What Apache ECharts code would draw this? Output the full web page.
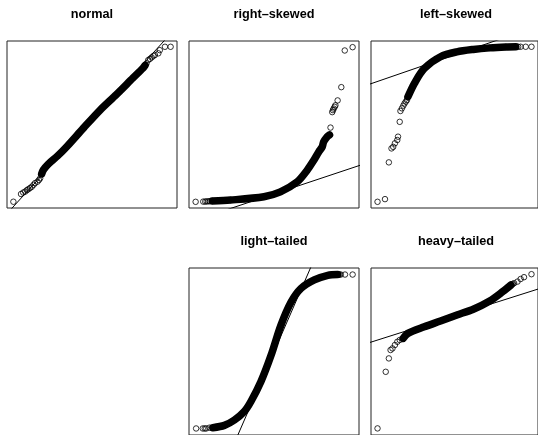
<!DOCTYPE html>
<html>
<head>
<meta charset="utf-8">
<script src="https://cdn.jsdelivr.net/npm/echarts@6/dist/echarts.min.js"></script>
<style>
  html, body { margin: 0; padding: 0; background: #fff; }
  #main { width: 538px; height: 435px; }
</style>
</head>
<body>
<div id="main"></div>
<script>
// panel titles
var titles = ['normal', 'right\u2013skewed', 'left\u2013skewed', 'light\u2013tailed', 'heavy\u2013tailed'];

// [theoretical quantile, sample quantile]
// dense part of the cloud
var normalBand = [[-2.05, -2.05], [-1.98, -1.88], [-1.78, -1.64], [-1.40, -1.30], [-1.03, -0.92], [-0.35, -0.15], [0.33, 0.60], [1.00, 1.25], [1.67, 1.93], [2.07, 2.33], [2.16, 2.45]];
var rightBand = [[-2.51, 0.04], [-1.77, 0.08], [-0.41, 0.23], [0.26, 0.45], [0.94, 0.90], [1.35, 1.43], [1.62, 1.88], [1.82, 2.26], [1.96, 2.48], [2.02, 2.71], [2.16, 2.94], [2.26, 3.03]];
var leftBand = [[-1.93, -2.26], [-1.66, -1.65], [-1.25, -0.98], [-0.58, -0.45], [0.10, -0.23], [0.78, -0.12], [1.46, -0.05], [2.13, -0.01], [2.54, 0.00]];
var lightBand = [[-2.49, -0.99], [-2.02, -0.96], [-1.61, -0.89], [-1.21, -0.78], [-0.94, -0.65], [-0.53, -0.39], [-0.12, -0.05], [0.28, 0.34], [0.69, 0.64], [1.10, 0.82], [1.64, 0.93], [2.19, 0.99], [2.59, 1.00]];
var heavyBand = [[-2.13, -1.17], [-1.93, -0.92], [-1.25, -0.59], [-0.58, -0.30], [0.10, 0.00], [0.78, 0.29], [1.46, 0.70], [2.00, 1.17], [2.34, 1.50]];

// separate circles in the tails
var normalTail = [[-3.20, -3.20], [-2.89, -2.88], [-2.80, -2.82], [-2.72, -2.78], [-2.65, -2.72], [-2.59, -2.68], [-2.52, -2.63], [-2.45, -2.58],
  [-2.38, -2.50], [-2.32, -2.43], [-2.22, -2.37], [-2.16, -2.30], [-2.11, -2.23],
  [2.22, 2.53], [2.29, 2.67], [2.36, 2.72], [2.43, 2.78], [2.50, 2.84], [2.56, 2.88], [2.70, 2.95], [2.76, 3.08], [2.97, 3.22], [3.20, 3.22]];
var rightTail = [[-3.19, 0.00], [-2.88, 0.01], [-2.80, 0.01], [-2.74, 0.02], [-2.67, 0.02], [-2.61, 0.03],
  [2.30, 3.36], [2.37, 4.06], [2.40, 4.15], [2.43, 4.22], [2.47, 4.30], [2.50, 4.37], [2.59, 4.59], [2.74, 5.19], [2.88, 6.85], [3.20, 7.00]];
var leftTail = [[-3.19, -7.00], [-2.88, -6.88], [-2.72, -5.22], [-2.61, -4.59], [-2.54, -4.52], [-2.47, -4.36], [-2.37, -4.21], [-2.34, -4.06],
  [-2.27, -3.39], [-2.24, -2.90], [-2.18, -2.78], [-2.12, -2.66], [-2.07, -2.56], [-2.02, -2.48], [-1.97, -2.41],
  [2.64, 0.00], [2.74, 0.00], [2.95, 0.00], [3.19, 0.00]];
var lightTail = [[-3.17, -1.00], [-2.90, -1.00], [-2.82, -1.00], [-2.76, -1.00], [-2.63, -0.99],
  [2.66, 1.00], [2.72, 1.00], [2.89, 1.00], [3.20, 1.00]];
var heavyTail = [[-3.19, -5.67], [-2.85, -2.84], [-2.72, -2.17], [-2.65, -1.75], [-2.57, -1.67], [-2.47, -1.50], [-2.37, -1.34], [-2.27, -1.25],
  [2.41, 1.55], [2.47, 1.59], [2.61, 1.67], [2.74, 1.80], [2.88, 1.89], [3.19, 2.04]];

// qqline end points (clipped by the box)
var normalLine = [[-3.6, -3.85], [3.6, 4.21]];
var rightLine = [[-2.2, -0.46], [3.6, 1.69]];
var leftLine = [[-3.6, -1.72], [2.2, 0.46]];
var lightLine = [[-1.6, -1.18], [1.6, 1.17]];
var heavyLine = [[-3.6, -1.41], [3.6, 1.35]];

// y ranges of each box
var yMin = [-3.46, -0.28, -7.28, -1.085, -6.0];
var yMax = [3.46, 7.28, 0.26, 1.085, 2.35];

var bands = [normalBand, rightBand, leftBand, lightBand, heavyBand];
var tails = [normalTail, rightTail, leftTail, lightTail, heavyTail];
var lines = [normalLine, rightLine, leftLine, lightLine, heavyLine];

var boxes = [
  { left: 7, top: 41 },
  { left: 189, top: 41 },
  { left: 371, top: 41 },
  { left: 189, top: 268 },
  { left: 371, top: 268 }
];

var chart = echarts.init(document.getElementById('main'), null, { renderer: 'canvas' });

var option = {
  animation: false,
  backgroundColor: '#fff',
  title: [],
  grid: [],
  xAxis: [],
  yAxis: [],
  series: []
};

boxes.forEach(function (b, i) {
  option.title.push({
    text: titles[i],
    left: b.left + 85,
    top: b.top - 33,
    textAlign: 'center',
    padding: 0,
    textStyle: { fontFamily: 'Liberation Sans', fontWeight: 'bold', fontSize: 12.7, color: '#000' }
  });
  option.grid.push({
    left: b.left, top: b.top, width: 170, height: 167,
    show: true, borderColor: '#222', borderWidth: 1, backgroundColor: 'transparent'
  });
  option.xAxis.push({ gridIndex: i, type: 'value', min: -3.46, max: 3.46, show: false });
  option.yAxis.push({ gridIndex: i, type: 'value', min: yMin[i], max: yMax[i], show: false });

  option.series.push({
    type: 'line', xAxisIndex: i, yAxisIndex: i,
    data: bands[i], symbol: 'none', smooth: 0.3,
    lineStyle: { color: '#000', width: 7.5, cap: 'round', join: 'round' }
  });
  option.series.push({
    type: 'scatter', xAxisIndex: i, yAxisIndex: i,
    data: tails[i].concat(bands[i]), symbol: 'circle', symbolSize: 5.5,
    itemStyle: { color: 'rgba(0,0,0,0)', borderColor: '#000', borderWidth: 1 }
  });
  option.series.push({
    type: 'line', xAxisIndex: i, yAxisIndex: i,
    data: lines[i], symbol: 'none', clip: true,
    lineStyle: { color: '#000', width: 1 }
  });
});

chart.setOption(option);
</script>
</body>
</html>
